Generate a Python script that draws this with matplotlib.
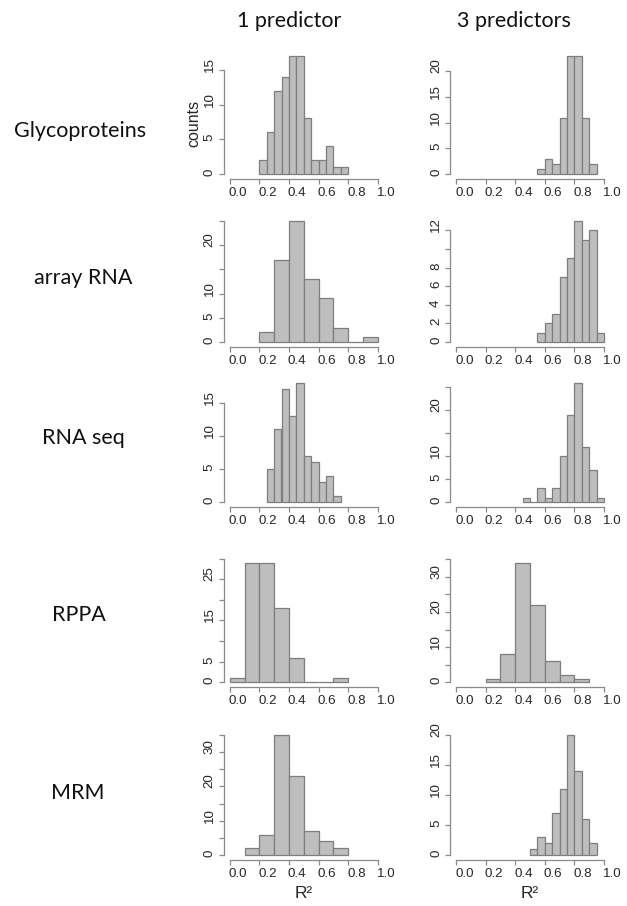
import matplotlib
matplotlib.use("Agg")
import matplotlib.pyplot as plt
from matplotlib.transforms import ScaledTranslation

# ---------------- data ----------------
row_names = ["Glycoproteins", "array RNA", "RNA seq", "RPPA", "MRM"]
col_names = ["1 predictor", "3 predictors"]

# histogram: first bin edge, bin width, counts
glyco_1_start, glyco_1_width = 0.20, 0.05
glyco_1_counts = [2, 6, 12, 14, 17, 17, 8, 2, 2, 4, 1, 1]
glyco_3_start, glyco_3_width = 0.55, 0.05
glyco_3_counts = [1, 3, 2, 11, 23, 23, 11, 2]

array_1_start, array_1_width = 0.20, 0.10
array_1_counts = [2, 17, 25, 13, 9, 3, 0, 1]
array_3_start, array_3_width = 0.55, 0.05
array_3_counts = [1, 2, 3, 7, 9, 13, 11, 12, 1]

rnaseq_1_start, rnaseq_1_width = 0.25, 0.05
rnaseq_1_counts = [5, 11, 17, 13, 18, 7, 6, 3, 4, 1]
rnaseq_3_start, rnaseq_3_width = 0.45, 0.05
rnaseq_3_counts = [1, 0, 3, 1, 3, 10, 19, 26, 12, 7, 1]

rppa_1_start, rppa_1_width = 0.00, 0.10
rppa_1_counts = [1, 29, 29, 18, 6, 0, 0, 1]
rppa_3_start, rppa_3_width = 0.20, 0.10
rppa_3_counts = [1, 8, 34, 22, 6, 2, 1]

mrm_1_start, mrm_1_width = 0.10, 0.10
mrm_1_counts = [2, 6, 35, 23, 7, 4, 2]
mrm_3_start, mrm_3_width = 0.50, 0.05
mrm_3_counts = [1, 3, 2, 7, 11, 20, 14, 6, 2]

x_ticks = [0.0, 0.2, 0.4, 0.6, 0.8, 1.0]
x_tick_labels = ["0.0", "0.2", "0.4", "0.6", "0.8", "1.0"]

# y ticks per panel (R draws ticks; some labels dropped for overlap)
glyco_1_yticks = [0, 5, 10, 15];  glyco_1_ylabels = ["0", "5", "10", "15"]
glyco_3_yticks = [0, 5, 10, 15, 20]; glyco_3_ylabels = ["0", "5", "10", "15", "20"]
array_1_yticks = [0, 5, 10, 15, 20, 25]; array_1_ylabels = ["0", "5", "10", "", "20", ""]
array_3_yticks = [0, 2, 4, 6, 8, 10, 12]; array_3_ylabels = ["0", "2", "4", "6", "8", "", "12"]
rnaseq_1_yticks = [0, 5, 10, 15]; rnaseq_1_ylabels = ["0", "5", "10", "15"]
rnaseq_3_yticks = [0, 5, 10, 15, 20, 25]; rnaseq_3_ylabels = ["0", "5", "10", "", "20", ""]
rppa_1_yticks = [0, 5, 10, 15, 20, 25, 30]; rppa_1_ylabels = ["0", "5", "", "15", "", "25", ""]
rppa_3_yticks = [0, 5, 10, 15, 20, 25, 30, 35]; rppa_3_ylabels = ["0", "", "10", "", "20", "", "30", ""]
mrm_1_yticks = [0, 5, 10, 15, 20, 25, 30, 35]; mrm_1_ylabels = ["0", "", "10", "", "20", "", "30", ""]
mrm_3_yticks = [0, 5, 10, 15, 20]; mrm_3_ylabels = ["0", "5", "10", "15", "20"]

panels = [
    [(glyco_1_start, glyco_1_width, glyco_1_counts, glyco_1_yticks, glyco_1_ylabels),
     (glyco_3_start, glyco_3_width, glyco_3_counts, glyco_3_yticks, glyco_3_ylabels)],
    [(array_1_start, array_1_width, array_1_counts, array_1_yticks, array_1_ylabels),
     (array_3_start, array_3_width, array_3_counts, array_3_yticks, array_3_ylabels)],
    [(rnaseq_1_start, rnaseq_1_width, rnaseq_1_counts, rnaseq_1_yticks, rnaseq_1_ylabels),
     (rnaseq_3_start, rnaseq_3_width, rnaseq_3_counts, rnaseq_3_yticks, rnaseq_3_ylabels)],
    [(rppa_1_start, rppa_1_width, rppa_1_counts, rppa_1_yticks, rppa_1_ylabels),
     (rppa_3_start, rppa_3_width, rppa_3_counts, rppa_3_yticks, rppa_3_ylabels)],
    [(mrm_1_start, mrm_1_width, mrm_1_counts, mrm_1_yticks, mrm_1_ylabels),
     (mrm_3_start, mrm_3_width, mrm_3_counts, mrm_3_yticks, mrm_3_ylabels)],
]

# ---------------- layout ----------------
W, H = 627, 906
fig = plt.figure(figsize=(W / 100, H / 100), dpi=100)
fig.patch.set_facecolor("white")

FILL = "#bebebe"
EDGE = "#7e7e7e"
AXC = "#8a8a8a"
TXT = "#262626"
TICKFONT = "Liberation Sans"
HEADFONT = ["Lato", "DejaVu Sans"]
TICKSIZE = 9.6

col_zero_px = [229.7, 456.0]   # pixel x of data 0
unit_px = 148.0                # pixels per 1.0 on x
row_bounds = [(51, 179), (216, 347), (378, 507), (558, 687), (730, 860)]


def px_axes(left, top, width, height):
    return fig.add_axes([left / W, 1 - (top + height) / H, width / W, height / H])


for r, row in enumerate(panels):
    top, bottom = row_bounds[r]
    for c, (start, bw, counts, yt, yl) in enumerate(row):
        left = col_zero_px[c] - 0.04 * unit_px
        ax = px_axes(left, top, 1.08 * unit_px, bottom - top)
        edges = [start + i * bw for i in range(len(counts))]
        ax.bar(edges, counts, width=bw, align="edge", color=FILL,
               edgecolor=EDGE, linewidth=0.9)
        m = max(counts)
        ax.set_xlim(-0.04, 1.04)
        ax.set_ylim(-0.04 * m, 1.04 * m)
        ax.set_facecolor("none")
        for s in ("top", "right"):
            ax.spines[s].set_visible(False)
        for s in ("left", "bottom"):
            ax.spines[s].set_color(AXC)
            ax.spines[s].set_linewidth(0.9)
        ax.spines["bottom"].set_bounds(0, 1)
        ax.spines["left"].set_bounds(0, yt[-1])
        ax.set_xticks(x_ticks)
        ax.set_xticklabels(x_tick_labels, fontfamily=TICKFONT, fontsize=TICKSIZE, color=TXT)
        ax.set_yticks(yt)
        ax.set_yticklabels(yl, fontfamily=TICKFONT, fontsize=TICKSIZE, color=TXT,
                           rotation=90)
        ax.tick_params(axis="both", direction="out", length=3.6, width=0.9,
                       color=AXC)
        ax.tick_params(axis="x", pad=2.4)
        ax.tick_params(axis="y", pad=2.2)
        offx = ScaledTranslation(-1 / 100, 0, fig.dpi_scale_trans)
        offy = ScaledTranslation(0, -2 / 100, fig.dpi_scale_trans)
        for lbl in ax.get_xticklabels():
            lbl.set_ha("left")
            lbl.set_transform(lbl.get_transform() + offx)
        for lbl in ax.get_yticklabels():
            lbl.set_va("bottom")
            lbl.set_transform(lbl.get_transform() + offy)

        if r == 0 and c == 0:
            fig.text(194 / W, 1 - 123 / H, "counts", rotation=90, ha="center",
                     va="center", fontsize=11.5, fontfamily=TICKFONT, color=TXT)
        if r == len(panels) - 1:
            cx = col_zero_px[c] + 0.5 * unit_px
            fig.text(cx / W, 1 - 894 / H, "R²", ha="center", va="center",
                     fontsize=12.5, fontfamily=TICKFONT, color=TXT)

# column headers
col_centers = [289, 514]
for name, cx in zip(col_names, col_centers):
    fig.text(cx / W, 1 - 21 / H, name, ha="center", va="center",
             fontsize=15.5, fontfamily=HEADFONT, color="#111111")

# row labels
row_label_x = [80.5, 83, 83, 78.5, 78]
row_label_y = [131, 278, 438, 615, 793]
for name, x, y in zip(row_names, row_label_x, row_label_y):
    fig.text(x / W, 1 - y / H, name, ha="center", va="center",
             fontsize=15.5, fontfamily=HEADFONT, color="#111111")

fig.savefig("out.png", dpi=100, facecolor="white")
